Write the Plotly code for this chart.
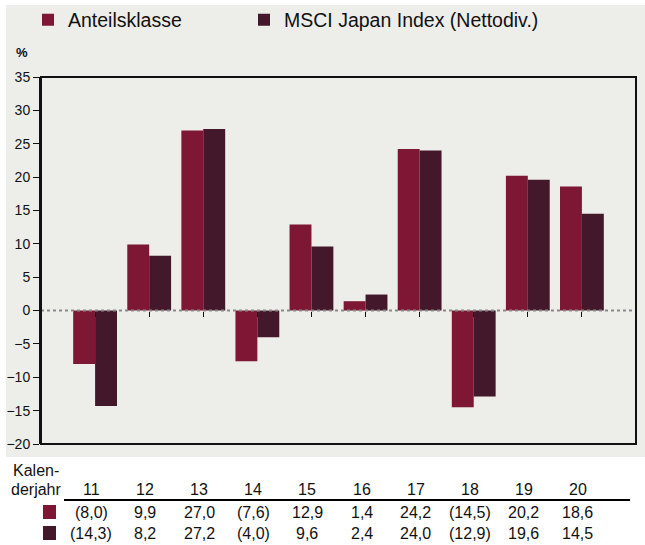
import plotly.graph_objects as go

years = ["11", "12", "13", "14", "15", "16", "17", "18", "19", "20"]
anteil = [-8.0, 9.9, 27.0, -7.6, 12.9, 1.4, 24.2, -14.5, 20.2, 18.6]
msci = [-14.3, 8.2, 27.2, -4.0, 9.6, 2.4, 24.0, -12.9, 19.6, 14.5]
series_names = ["Anteilsklasse", "MSCI Japan Index (Nettodiv.)"]
colors = ["#7E1733", "#43182B"]
y_ticks = list(range(-20, 40, 5))

FONT = "Liberation Sans, Arial, sans-serif"
TXT = "#111111"


def fmt(v):
    s = f"{abs(v):.1f}".replace(".", ",")
    return f"({s})" if v < 0 else s


fig = go.Figure()
legends = ["legend", "legend2"]
for name, vals, col, lg in zip(series_names, [anteil, msci], colors, legends):
    fig.add_trace(go.Bar(x=years, y=vals, name=name, marker_color=col,
                         marker_line_width=0, legend=lg))

PLOT_T, PLOT_B = 77, 444
H = PLOT_B - PLOT_T
L, R = 41, 636
W = R - L
FW, FH = 645, 545


def py(pix):
    return (PLOT_B - pix) / H


def px(pix):
    return (pix - L) / W


shapes = [
    # grey panel background
    dict(type="rect", xref="paper", yref="paper", x0=px(6), x1=px(645),
         y0=py(457), y1=py(5), fillcolor="#EDEDE9", line_width=0, layer="below"),
    # zero line
    dict(type="line", xref="paper", yref="y", x0=0, x1=1, y0=0, y1=0,
         line=dict(color="#8A8A8A", width=2, dash="dot"), layer="above"),
    # plot frame
    dict(type="rect", xref="paper", yref="paper", x0=0, x1=1, y0=0, y1=1,
         line=dict(color="#111111", width=2), layer="above"),
    # table rule
    dict(type="line", xref="paper", yref="paper", x0=px(64), x1=px(630),
         y0=py(500), y1=py(500), line=dict(color="#000000", width=2)),
    # table legend squares
    dict(type="rect", xref="paper", yref="paper", x0=px(43), x1=px(56),
         y0=py(519), y1=py(505), fillcolor=colors[0], line_width=0),
    dict(type="rect", xref="paper", yref="paper", x0=px(43), x1=px(56),
         y0=py(540), y1=py(526), fillcolor=colors[1], line_width=0),
]

TF = dict(size=16, color=TXT)
ann = [
    dict(text="<b>%</b>", xref="paper", yref="paper", x=px(22), y=py(52),
         showarrow=False, font=dict(size=13, color=TXT), xanchor="center",
         yanchor="middle"),
    dict(text="Kalen-", xref="paper", yref="paper", x=px(61), y=py(470),
         showarrow=False, font=TF, xanchor="right", yanchor="middle"),
    dict(text="derjahr", xref="paper", yref="paper", x=px(63), y=py(489),
         showarrow=False, font=TF, xanchor="right", yanchor="middle"),
]
for i, yr in enumerate(years):
    for txt, ypix in ((yr, 489), (fmt(anteil[i]), 512), (fmt(msci[i]), 533)):
        ann.append(dict(text=txt, x=i, xref="x", yref="paper", y=py(ypix),
                        showarrow=False, xshift=-4, font=TF,
                        xanchor="center", yanchor="middle"))

leg_common = dict(orientation="h", xref="container", yref="container",
                  xanchor="left", yanchor="middle",
                  font=dict(size=19.5, color=TXT), bgcolor="rgba(0,0,0,0)")

fig.update_layout(
    width=FW, height=FH,
    margin=dict(l=L, r=FW - R, t=PLOT_T, b=FH - PLOT_B, pad=0,
                autoexpand=False),
    paper_bgcolor="white",
    plot_bgcolor="rgba(0,0,0,0)",
    font=dict(family=FONT, color=TXT),
    barmode="group", bargap=0.19, bargroupgap=0,
    showlegend=True,
    legend=dict(x=28 / FW, y=1 - 20 / FH, **leg_common),
    legend2=dict(x=244 / FW, y=1 - 20 / FH, **leg_common),
    xaxis=dict(type="category", range=[-1, 10], anchor="free", position=20 / 55,
               showline=False, showgrid=False, ticks="outside", ticklen=5,
               tickwidth=1, tickcolor=TXT, showticklabels=False,
               zeroline=False, automargin=False),
    yaxis=dict(range=[-20, 35], tickvals=y_ticks, showgrid=False,
               zeroline=False, showline=True, linecolor=TXT, linewidth=2,
               ticks="outside", ticklen=6, tickcolor=TXT, tickwidth=1,
               tickfont=dict(size=14, color=TXT), automargin=False),
    shapes=shapes,
    annotations=ann,
)

fig.write_html("out.html",
               config={"displayModeBar": False},
               post_script="document.body.style.margin='0';"
                           "document.body.style.overflow='hidden';")
